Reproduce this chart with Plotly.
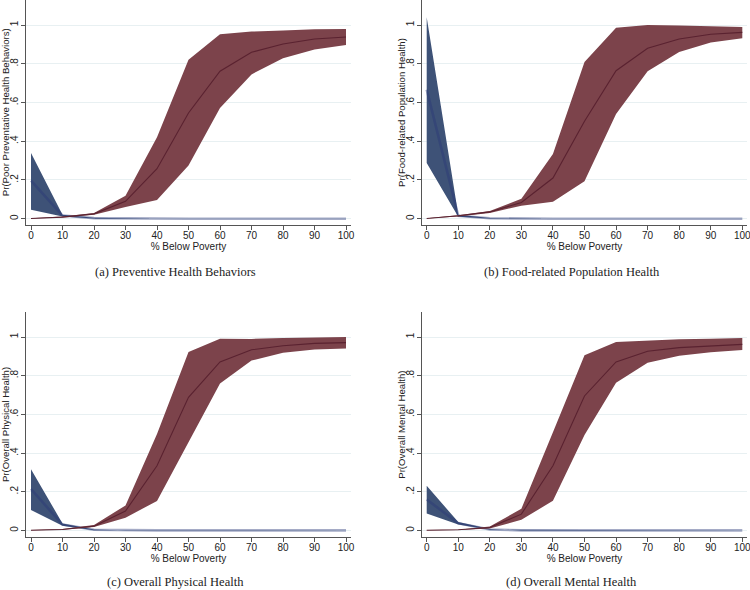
import plotly.graph_objects as go

x_vals = [0, 10, 20, 30, 40, 50, 60, 70, 80, 90, 100]
x_ticks = [0, 10, 20, 30, 40, 50, 60, 70, 80, 90, 100]
y_ticks = [0, 0.2, 0.4, 0.6, 0.8, 1]
y_tick_text = ["0", ".2", ".4", ".6", ".8", "1"]

# (a) Preventive Health Behaviors
a_blue_mean = [0.196, 0.016, 0.003, 0.001, 0, 0, 0, 0, 0, 0, 0]
a_blue_lo = [0.046, 0.011, 0.001, 0, 0, 0, 0, 0, 0, 0, 0]
a_blue_hi = [0.339, 0.021, 0.005, 0.001, 0, 0, 0, 0, 0, 0, 0]
a_red_mean = [0.001, 0.008, 0.025, 0.09, 0.258, 0.546, 0.761, 0.859, 0.902, 0.928, 0.938]
a_red_lo = [0.0005, 0.006, 0.021, 0.06, 0.096, 0.275, 0.571, 0.745, 0.828, 0.873, 0.897]
a_red_hi = [0.002, 0.011, 0.03, 0.119, 0.42, 0.82, 0.952, 0.966, 0.972, 0.978, 0.979]

# (b) Food-related Population Health
b_blue_mean = [0.666, 0.015, 0.002, 0, 0, 0, 0, 0, 0, 0, 0]
b_blue_lo = [0.287, 0.01, 0.001, 0, 0, 0, 0, 0, 0, 0, 0]
b_blue_hi = [1.04, 0.02, 0.003, 0, 0, 0, 0, 0, 0, 0, 0]
b_red_mean = [0.001, 0.015, 0.035, 0.084, 0.21, 0.503, 0.764, 0.88, 0.928, 0.952, 0.962]
b_red_lo = [0.0005, 0.012, 0.03, 0.067, 0.088, 0.193, 0.54, 0.761, 0.861, 0.91, 0.931]
b_red_hi = [0.002, 0.018, 0.04, 0.103, 0.334, 0.809, 0.986, 1.0, 0.997, 0.993, 0.99]

# (c) Overall Physical Health
c_blue_mean = [0.214, 0.03, 0.003, 0, 0, 0, 0, 0, 0, 0, 0]
c_blue_lo = [0.105, 0.024, 0.001, 0, 0, 0, 0, 0, 0, 0, 0]
c_blue_hi = [0.316, 0.036, 0.005, 0, 0, 0, 0, 0, 0, 0, 0]
c_red_mean = [0.001, 0.005, 0.022, 0.1, 0.334, 0.688, 0.871, 0.934, 0.955, 0.967, 0.971]
c_red_lo = [0.0005, 0.004, 0.018, 0.066, 0.152, 0.459, 0.76, 0.878, 0.919, 0.936, 0.941]
c_red_hi = [0.002, 0.007, 0.028, 0.129, 0.498, 0.922, 0.991, 0.99, 0.995, 0.997, 1.0]

# (d) Overall Mental Health
d_blue_mean = [0.16, 0.037, 0.005, 0, 0, 0, 0, 0, 0, 0, 0]
d_blue_lo = [0.088, 0.031, 0.003, 0, 0, 0, 0, 0, 0, 0, 0]
d_blue_hi = [0.231, 0.043, 0.007, 0, 0, 0, 0, 0, 0, 0, 0]
d_red_mean = [0.001, 0.003, 0.015, 0.084, 0.334, 0.695, 0.871, 0.926, 0.945, 0.955, 0.962]
d_red_lo = [0.0005, 0.002, 0.01, 0.055, 0.153, 0.493, 0.764, 0.867, 0.903, 0.921, 0.933]
d_red_hi = [0.002, 0.004, 0.02, 0.112, 0.507, 0.905, 0.974, 0.981, 0.988, 0.991, 0.995]

y_titles = [
    "Pr(Poor Preventative Health Behaviors)",
    "Pr(Food-related Population Health)",
    "Pr(Overall Physical Health)",
    "Pr(Overall Mental Health)",
]
x_title = "% Below Poverty"
captions = [
    "(a) Preventive Health Behaviors",
    "(b) Food-related Population Health",
    "(c) Overall Physical Health",
    "(d) Overall Mental Health",
]

panels = [
    (a_blue_mean, a_blue_lo, a_blue_hi, a_red_mean, a_red_lo, a_red_hi),
    (b_blue_mean, b_blue_lo, b_blue_hi, b_red_mean, b_red_lo, b_red_hi),
    (c_blue_mean, c_blue_lo, c_blue_hi, c_red_mean, c_red_lo, c_red_hi),
    (d_blue_mean, d_blue_lo, d_blue_hi, d_red_mean, d_red_lo, d_red_hi),
]

W, H = 750, 590
# pixel layout of each panel: (left, right, top, bottom)
boxes = [
    (26, 351, 0, 225),
    (421.7, 747.3, 0, 225),
    (26, 351, 312, 536.7),
    (421.7, 747.3, 312, 536.7),
]
cap_pos = [(175, 271.5), (571.5, 271.5), (175, 582), (571.5, 582)]

BLUE_FILL = "#3e5277"
BLUE_LINE = "rgba(40,55,120,0.42)"
RED_FILL = "#7c434b"
RED_LINE = "#5a2230"
AXIS_COL = "#555555"
GRID_COL = "#e8f0f2"
SANS = "Liberation Sans, Arial, sans-serif"

fig = go.Figure()
layout = {}
annotations = []
for i, (bm, bl, bh, rm, rl, rh) in enumerate(panels):
    n = "" if i == 0 else str(i + 1)
    xa, ya = "x" + n, "y" + n
    for lo, hi, mean, fill, line, lw in [
        (bl, bh, bm, BLUE_FILL, BLUE_LINE, 2.6),
        (rl, rh, rm, RED_FILL, RED_LINE, 1.1),
    ]:
        fig.add_trace(go.Scatter(
            x=x_vals + x_vals[::-1], y=hi + lo[::-1],
            fill="toself", fillcolor=fill, mode="lines",
            line=dict(color=fill, width=0),
            xaxis=xa, yaxis=ya, showlegend=False, hoverinfo="skip",
        ))
        fig.add_trace(go.Scatter(
            x=x_vals, y=mean, mode="lines",
            line=dict(color=line, width=lw),
            xaxis=xa, yaxis=ya, showlegend=False,
        ))
    l, r, t, b = boxes[i]
    x_px0, x_px100 = (l + 5, r - 5)
    ppu = (x_px100 - x_px0) / 100.0
    xr = [-(x_px0 - l) / ppu, 100 + (r - x_px100) / ppu]
    y0px = b - 6.3
    y1px = t + 25
    ppy = (y0px - y1px) / 1.0
    yr = [-(b - y0px) / ppy, (y0px - t) / ppy]
    layout["xaxis" + n] = dict(
        domain=[l / W, r / W], anchor=ya, range=xr, automargin=False,
        tickvals=x_ticks, ticks="outside", ticklen=4, tickcolor=AXIS_COL,
        ticklabeloverflow="allow", ticklabelstandoff=-3,
        showline=True, linecolor=AXIS_COL, linewidth=1, showgrid=False,
        zeroline=False, tickfont=dict(family=SANS, size=10, color="#222"),
        title=dict(text=x_title, font=dict(family=SANS, size=10, color="#222"), standoff=1),
    )
    layout["yaxis" + n] = dict(
        domain=[1 - b / H, 1 - t / H], anchor=xa, range=yr, automargin=False,
        tickvals=y_ticks, ticktext=y_tick_text, tickangle=-90,
        ticklabeloverflow="allow", ticklabelstandoff=-1,
        ticks="outside", ticklen=4, tickcolor=AXIS_COL,
        showline=True, linecolor=AXIS_COL, linewidth=1,
        showgrid=True, gridcolor=GRID_COL, gridwidth=1, zeroline=False,
        tickfont=dict(family=SANS, size=10, color="#222"),
    )
    annotations.append(dict(
        text=y_titles[i], x=(l - 20.3) / W, y=1 - (t + b) / 2 / H,
        xref="paper", yref="paper", xanchor="center", yanchor="middle",
        textangle=-90, showarrow=False, borderpad=0,
        font=dict(family=SANS, size=9.6, color="#222"),
    ))

for i, cap in enumerate(captions):
    cx, cy = cap_pos[i]
    annotations.append(dict(
        text=cap, x=cx / W, y=1 - cy / H, xref="paper", yref="paper",
        xanchor="center", yanchor="middle", showarrow=False,
        font=dict(family="Liberation Serif, Times New Roman, serif", size=12.5, color="#222"),
    ))

fig.update_layout(
    width=W, height=H, margin=dict(l=0, r=0, t=0, b=0),
    paper_bgcolor="white", plot_bgcolor="white",
    annotations=annotations, **layout,
)
fig.write_html(
    "out.html",
    config={"displayModeBar": False},
    post_script="document.body.style.margin='0';document.body.style.overflow='hidden';",
)
